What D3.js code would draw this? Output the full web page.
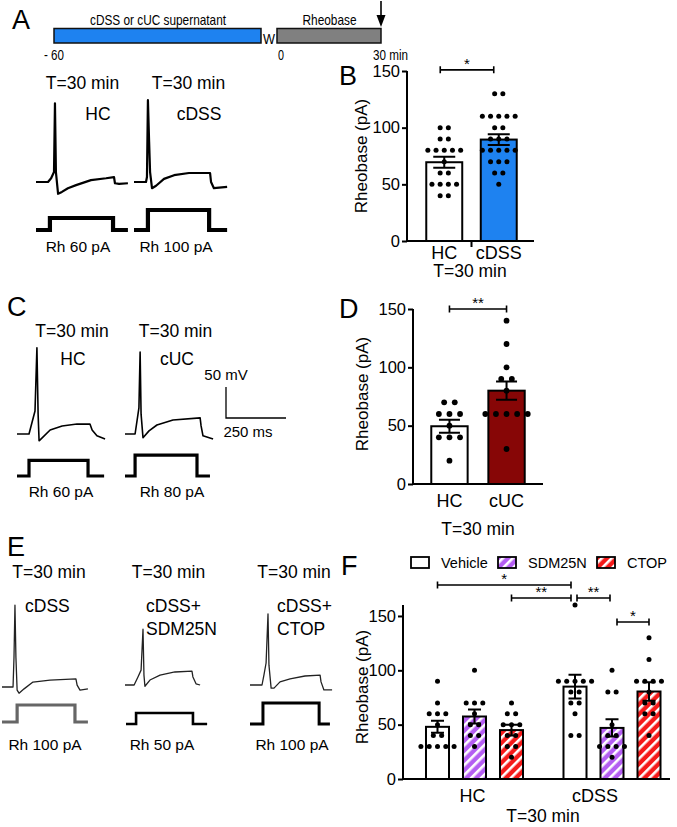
<!DOCTYPE html>
<html><head><meta charset="utf-8">
<script src="https://cdn.jsdelivr.net/npm/d3@7"></script>
<style>body{margin:0;background:#fff} svg text{font-family:"Liberation Sans",Arial,Helvetica,sans-serif;fill:#000}</style>
</head><body><svg id="c" width="677" height="827"></svg>
<script>
// ================= DATA =================
// Panel A timeline (minutes)
const timelineSegments = [
  {label:"cDSS or cUC supernatant", start:-60, end:-4, fill:"#1e82f0"},
  {label:"Rheobase", start:0, end:30, fill:"#808080"}
];
const timelineTicks = ["- 60","0","30 min"];
const timelineTickValues = [-60, 0, 30];
const washLabel = "W";

// Example voltage traces: [time ms, membrane potential mV]
const traceA_HC   = [[0,-60],[50,-60],[63,-54],[75,-44],[79,67],[83,-44],[92,-79],[108,-76],[133,-70],[167,-65],[229,-57],[292,-54],[325,-52],[329,-62],[346,-63],[383,-62]];
const traceA_cDSS = [[0,-60],[50,-60],[54,-52],[58,72],[63,5],[67,-44],[75,-70],[92,-66],[125,-55],[167,-49],[229,-45.5],[317,-45.5],[321,-60],[333,-70],[388,-68]];
const traceC_HC   = [[0,-60],[50,-60],[75,-23],[83,79],[88,-28],[92,-71],[108,-65],[138,-53.5],[188,-47],[250,-44],[304,-44],[313,-53.5],[333,-63],[367,-68]];
const traceC_cUC  = [[0,-60],[42,-60],[58,-18],[63,72],[67,-28],[75,-66],[100,-55],[133,-45.5],[200,-37.5],[313,-34],[317,-47],[325,-63],[367,-68]];
const traceE_cDSS = [[0,-60],[46,-60],[50,-12],[54,72],[58,-12],[63,-65],[71,-70],[92,-63],[129,-52],[200,-49],[308,-47],[313,-57],[325,-65],[358,-63]];
const traceE_SDM  = [[0,-60],[38,-60],[54,-47],[67,-36],[75,30],[79,-44],[83,-62],[104,-52],[146,-44],[208,-39],[279,-37.5],[283,-47],[296,-58],[313,-60]];
const traceE_CTOP = [[0,-60],[50,-60],[58,-44],[67,-24.5],[75,54.5],[79,-28],[88,-65],[100,-65],[125,-55],[167,-50],[229,-45.5],[292,-44],[296,-55],[308,-68],[342,-68]];
// Current steps: onset, offset, end (ms); amplitude = rheobase (pA)
const stepA_HC   = [58, 321, 383];
const stepA_cDSS = [58, 313, 388];
const stepC_HC   = [50, 296, 363];
const stepC_cUC  = [42, 300, 354];
const stepE_cDSS = [63, 304, 358];
const stepE_SDM  = [42, 279, 338];
const stepE_CTOP = [54, 288, 333];
const rheobaseExamples = [60, 100, 60, 80, 100, 50, 100];
const exampleLabelsA = ["HC","cDSS"];
const exampleLabelsC = ["HC","cUC"];
const exampleLabelsE = [["cDSS"],["cDSS+","SDM25N"],["cDSS+","CTOP"]];
const scaleBarValues = [50, 250]; // mV, ms

// Panel B
const bCategories = ["HC","cDSS"];
const bMeans = [69.5, 89.5];
const bSEM = [4.8, 4.8];
const bHC = [100,100,90,90,80,80,80,80,80,70,60,60,50,50,50,50,40,40];
const bCDSS = [130,130,110,110,110,110,110,100,100,90,90,90,80,80,80,80,80,70,70,70,60,60,50];

// Panel D
const dCategories = ["HC","cUC"];
const dMeans = [49.5, 80];
const dSEM = [5.5, 7.8];
const dHC = [70,70,60,60,60,50,40,40,40,20];
const dCUC = [140,120,100,90,90,80,60,60,60,60,60,30];

// Panel F
const fGroups = ["HC","cDSS"];
const fSeries = ["Vehicle","SDM25N","CTOP"];
const fMeansHC = [48, 57.5, 45];
const fMeansCDSS = [85, 47, 80.5];
const fSEMHC = [5.5, 6.5, 5];
const fSEMCDSS = [11, 8, 8.5];
const fHC_Vehicle = [90,70,60,60,60,50,40,40,30,30,30,30,30];
const fHC_SDM = [100,70,70,70,60,50,50,40,40,30];
const fHC_CTOP = [70,60,60,50,50,50,40,40,30,30,20];
const fCDSS_Vehicle = [160,90,90,90,90,90,80,80,70,70,60,40,40];
const fCDSS_SDM = [100,80,80,50,40,40,30,30,30,30,20];
const fCDSS_CTOP = [130,110,90,90,90,90,80,70,70,60,60,40];
const yTicks = [0, 50, 100, 150];

// ================= DRAWING =================
const svg = d3.select("#c");
const defs = svg.append("defs");
function hatch(id, color){
  const p = defs.append("pattern").attr("id",id).attr("patternUnits","userSpaceOnUse")
    .attr("width",7).attr("height",7).attr("patternTransform","rotate(45)");
  p.append("rect").attr("width",7).attr("height",7).attr("fill",color);
  p.append("rect").attr("width",2.6).attr("height",7).attr("fill","#fff");
}
hatch("hP","#b45ef2");
hatch("hR","#f51a1a");

function txt(x,y,s,size,anchor,opts){
  const t = svg.append("text").attr("x",x).attr("y",y).attr("font-size",size)
    .attr("text-anchor",anchor||"start").text(s);
  if(opts && opts.len) t.attr("textLength",opts.len).attr("lengthAdjust","spacingAndGlyphs");
  if(opts && opts.rot) t.attr("transform",`rotate(-90,${x},${y})`);
  return t;
}
// panel letters
[["A",12,29],["B",339,85],["C",7,316],["D",339,318],["E",7,556],["F",341,575]]
  .forEach(d=>txt(d[1],d[2],d[0],27));

// ---- A timeline ----
const tl = d3.scaleLinear().domain([-60,-4,0,30]).range([54,261,277,381]);
timelineSegments.forEach(s=>{
  svg.append("rect").attr("x",tl(s.start)).attr("y",28.5).attr("width",tl(s.end)-tl(s.start)).attr("height",14.5)
    .attr("fill",s.fill).attr("stroke","#111").attr("stroke-width",1.5);
});
txt((tl(-60)+tl(-4))/2+0.5,25,timelineSegments[0].label,15,"middle",{len:136});
txt((tl(0)+tl(30))/2+0.5,25,timelineSegments[1].label,15,"middle",{len:54});
txt(tl(-2),43.5,washLabel,15,"middle",{len:12});
txt(tl(timelineTickValues[0]),60,timelineTicks[0],15,"middle",{len:20});
txt(tl(timelineTickValues[1])+1,60,timelineTicks[1],15,"start",{len:6});
txt(tl(timelineTickValues[2])-8,60,timelineTicks[2],15,"start",{len:35});
// arrow
const ax = tl(30);
svg.append("line").attr("x1",ax).attr("x2",ax).attr("y1",1).attr("y2",18).attr("stroke","#000").attr("stroke-width",1.6);
svg.append("path").attr("d",`M${ax-4.5},15 L${ax+4.5},15 L${ax},27 Z`).attr("fill","#000");

// ---- traces ----
const tS = d3.scaleLinear().domain([0,250]).range([0,60]);
const vS = d3.scaleLinear().domain([-60,-10]).range([0,-31]);
function vTrace(pts, ox, oy, sw, col){
  const line = d3.line().x(d=>ox+tS(d[0])).y(d=>oy+vS(d[1]));
  svg.append("path").attr("d",line(pts)).attr("fill","none").attr("stroke",col||"#000")
    .attr("stroke-width",sw).attr("stroke-linejoin","round");
}
function iTrace(step, amp, ox, oy, k, sw, col){
  const iS = d3.scaleLinear().domain([0,100]).range([0,-100*k]);
  const pts = [[0,0],[step[0],0],[step[0],amp],[step[1],amp],[step[1],0],[step[2],0]];
  const line = d3.line().x(d=>ox+tS(d[0])).y(d=>oy+iS(d[1]));
  svg.append("path").attr("d",line(pts)).attr("fill","none").attr("stroke",col||"#000")
    .attr("stroke-width",sw).attr("stroke-linejoin","miter");
}
// A
txt(82.5,89,"T=30 min",17.5,"middle"); txt(188.5,89,"T=30 min",17.5,"middle");
txt(98,120,exampleLabelsA[0],17.5,"middle"); txt(199,120,exampleLabelsA[1],17.5,"middle");
vTrace(traceA_HC,36,182,2.2); vTrace(traceA_cDSS,134,182,2.2);
iTrace(stepA_HC,rheobaseExamples[0],36,230,0.2,4.2); iTrace(stepA_cDSS,rheobaseExamples[1],134,230,0.2,4.2);
txt(78,252,`Rh ${rheobaseExamples[0]} pA`,15.5,"middle"); txt(176,252,`Rh ${rheobaseExamples[1]} pA`,15.5,"middle");
// C
txt(72,337,"T=30 min",17.5,"middle"); txt(175.5,337,"T=30 min",17.5,"middle");
txt(73,365,exampleLabelsC[0],17.5,"middle"); txt(177,365,exampleLabelsC[1],17.5,"middle");
vTrace(traceC_HC,17,434,1.6); vTrace(traceC_cUC,125,434,1.6);
iTrace(stepC_HC,rheobaseExamples[2],17,476,0.26,3.2); iTrace(stepC_cUC,rheobaseExamples[3],125,476,0.26,3.2);
txt(61,497,`Rh ${rheobaseExamples[2]} pA`,15.5,"middle"); txt(172,497,`Rh ${rheobaseExamples[3]} pA`,15.5,"middle");
// scale bar
const sbx = 226, sby = 418;
svg.append("path").attr("d",`M${sbx},${sby+vS(-60+scaleBarValues[0])} L${sbx},${sby} L${sbx+tS(scaleBarValues[1])},${sby}`)
  .attr("fill","none").attr("stroke","#000").attr("stroke-width",1.3);
txt(226,380,`${scaleBarValues[0]} mV`,15,"middle");
txt(248,437,`${scaleBarValues[1]} ms`,15,"middle");
// E
txt(49,578,"T=30 min",17.5,"middle"); txt(168.5,578,"T=30 min",17.5,"middle"); txt(294,578,"T=30 min",17.5,"middle");
txt(25,612,exampleLabelsE[0][0],17.5);
txt(146,612,exampleLabelsE[1][0],17.5); txt(146,635,exampleLabelsE[1][1],17.5);
txt(277,612,exampleLabelsE[2][0],17.5); txt(277,635,exampleLabelsE[2][1],17.5);
vTrace(traceE_cDSS,2,687,1.3,"#222"); vTrace(traceE_SDM,125,685,1.3,"#222"); vTrace(traceE_CTOP,250,685,1.3,"#222");
iTrace(stepE_cDSS,rheobaseExamples[4],2,722,0.17,3.2,"#666");
iTrace(stepE_SDM,rheobaseExamples[5],126,724,0.22,2.6);
iTrace(stepE_CTOP,rheobaseExamples[6],250,724,0.21,3);
txt(45,750,`Rh ${rheobaseExamples[4]} pA`,15.5,"middle");
txt(162,750,`Rh ${rheobaseExamples[5]} pA`,15.5,"middle");
txt(292,750,`Rh ${rheobaseExamples[6]} pA`,15.5,"middle");

// ---- bar chart helpers ----
function yAxis(y, x, top){
  const g = svg.append("g").attr("transform",`translate(${x},0)`)
    .call(d3.axisLeft(y).tickValues(yTicks).tickSize(5).tickPadding(2).tickSizeOuter(0));
  g.select(".domain").attr("stroke-width",2).attr("d",`M0,${y(0)}V${top}`);
  g.selectAll(".tick line").attr("stroke-width",2);
  g.selectAll(".tick text").attr("font-size",16.5).attr("font-family","Liberation Sans, Arial, sans-serif");
  return g;
}
function dots(vals, cx, y, spacing, r){
  const counts = d3.rollup(vals, v=>v.length, d=>d);
  const seen = new Map();
  vals.forEach(v=>{
    const n = counts.get(v); const i = seen.get(v)||0; seen.set(v,i+1);
    svg.append("circle").attr("cx",cx+(i-(n-1)/2)*spacing).attr("cy",y(v)).attr("r",r).attr("fill","#000");
  });
}
function errBar(cx, y, m, s, capW){
  svg.append("path").attr("d",`M${cx},${y(m-s)}V${y(m+s)}M${cx-capW/2},${y(m+s)}h${capW}M${cx-capW/2},${y(m-s)}h${capW}`)
    .attr("stroke","#000").attr("stroke-width",2).attr("fill","none");
}
function sig(x1,x2,yy,label){
  svg.append("path").attr("d",`M${x1},${yy}H${x2}M${x1},${yy-3.5}v7M${x2},${yy-3.5}v7`)
    .attr("stroke","#000").attr("stroke-width",1.6).attr("fill","none");
  txt((x1+x2)/2,yy-1,label,15,"middle");
}

// ---- Panel B ----
{
  const y = d3.scaleLinear().domain([0,150]).range([241,71]);
  const x = d3.scaleBand().domain(bCategories).range([417,526]).paddingInner(0.34).paddingOuter(0.17);
  const fills = ["#fff","#1e82f0"];
  const pts = [bHC,bCDSS];
  bCategories.forEach((c,i)=>{
    svg.append("rect").attr("x",x(c)).attr("y",y(bMeans[i])).attr("width",x.bandwidth()).attr("height",y(0)-y(bMeans[i]))
      .attr("fill",fills[i]).attr("stroke","#000").attr("stroke-width",2);
  });
  bCategories.forEach((c,i)=>dots(pts[i], x(c)+x.bandwidth()/2, y, 8.2, 2.5));
  bCategories.forEach((c,i)=>errBar(x(c)+x.bandwidth()/2, y, bMeans[i], bSEM[i], 22));
  yAxis(y,407,y(150));
  svg.append("path").attr("d",`M406,${y(0)}H534M${(x("HC")+x.bandwidth()+x("cDSS"))/2},${y(0)}v6`).attr("stroke","#000").attr("stroke-width",2);
  bCategories.forEach(c=>txt(x(c)+x.bandwidth()/2,259,c,18,"middle"));
  txt(470,277,"T=30 min",17.5,"middle");
  txt(367,156,"Rheobase (pA)",17,"middle",{rot:true});
  sig(x("HC")+x.bandwidth()/2-4, x("cDSS")+x.bandwidth()/2-5, y(151), "*");
}
// ---- Panel D ----
{
  const y = d3.scaleLinear().domain([0,150]).range([484,309]);
  const x = d3.scaleBand().domain(dCategories).range([421,535]).paddingInner(0.363).paddingOuter(0.18);
  const fills = ["#fff","#870606"];
  const pts = [dHC,dCUC];
  dCategories.forEach((c,i)=>{
    svg.append("rect").attr("x",x(c)).attr("y",y(dMeans[i])).attr("width",x.bandwidth()).attr("height",y(0)-y(dMeans[i]))
      .attr("fill",fills[i]).attr("stroke","#000").attr("stroke-width",2);
  });
  dCategories.forEach((c,i)=>dots(pts[i], x(c)+x.bandwidth()/2, y, 10.6, 2.9));
  dCategories.forEach((c,i)=>errBar(x(c)+x.bandwidth()/2, y, dMeans[i], dSEM[i], 21));
  yAxis(y,413,y(150));
  svg.append("path").attr("d",`M412,${y(0)}H543`).attr("stroke","#000").attr("stroke-width",2);
  dCategories.forEach(c=>txt(x(c)+x.bandwidth()/2,507,c,18,"middle"));
  txt(478,535,"T=30 min",17.5,"middle");
  txt(368,394,"Rheobase (pA)",17,"middle",{rot:true});
  sig(x("HC")+x.bandwidth()/2, x("cUC")+x.bandwidth()/2, y(150), "**");
}
// ---- Panel F ----
{
  const y = d3.scaleLinear().domain([0,160]).range([779,605.1]);
  const xg = d3.scaleBand().domain(fGroups).range([405.75,680.75]);
  const xs = d3.scaleBand().domain(fSeries).range([0,111]).paddingInner(0.378).paddingOuter(0.189);
  const fills = ["#fff","url(#hP)","url(#hR)"];
  const means = [fMeansHC,fMeansCDSS], sems=[fSEMHC,fSEMCDSS];
  const pts = [[fHC_Vehicle,fHC_SDM,fHC_CTOP],[fCDSS_Vehicle,fCDSS_SDM,fCDSS_CTOP]];
  const bx = (g,s)=>xg(g)+xg.bandwidth()/2-55.5+xs(s);
  const cx = (g,s)=>bx(g,s)+xs.bandwidth()/2;
  fGroups.forEach((g,gi)=>fSeries.forEach((s,si)=>{
    const m = means[gi][si];
    svg.append("rect").attr("x",bx(g,s)).attr("y",y(m)).attr("width",xs.bandwidth()).attr("height",y(0)-y(m))
      .attr("fill",fills[si]).attr("stroke","#000").attr("stroke-width",2);
  }));
  fGroups.forEach((g,gi)=>fSeries.forEach((s,si)=>dots(pts[gi][si], cx(g,s), y, 8.3, 2.5)));
  fGroups.forEach((g,gi)=>fSeries.forEach((s,si)=>errBar(cx(g,s), y, means[gi][si], sems[gi][si], 13)));
  yAxis(y,403,y(160));
  svg.append("path").attr("d",`M402,${y(0)}H670`).attr("stroke","#000").attr("stroke-width",2);
  const labelDx = [-2,-17];
  fGroups.forEach((g,gi)=>txt(xg(g)+xg.bandwidth()/2+labelDx[gi],802,g,18,"middle"));
  txt(543,822,"T=30 min",17.5,"middle");
  txt(368,687,"Rheobase (pA)",17,"middle",{rot:true});
  // legend
  const lx = [411,498,597];
  fSeries.forEach((s,si)=>{
    svg.append("rect").attr("x",lx[si]).attr("y",557).attr("width",18).attr("height",11)
      .attr("fill",fills[si]).attr("stroke","#000").attr("stroke-width",1.8);
    txt(lx[si]+30,568,s,14.5);
  });
  sig(cx("HC","Vehicle"), cx("cDSS","Vehicle")-4, y(178.5), "*");
  sig(cx("HC","CTOP"), cx("cDSS","Vehicle")-4, y(166.6), "**");
  sig(cx("cDSS","Vehicle")+2, cx("cDSS","SDM25N")-2, y(166.6), "**");
  sig(cx("cDSS","SDM25N")+5, cx("cDSS","CTOP"), y(144.5), "*");
}
</script></body></html>
